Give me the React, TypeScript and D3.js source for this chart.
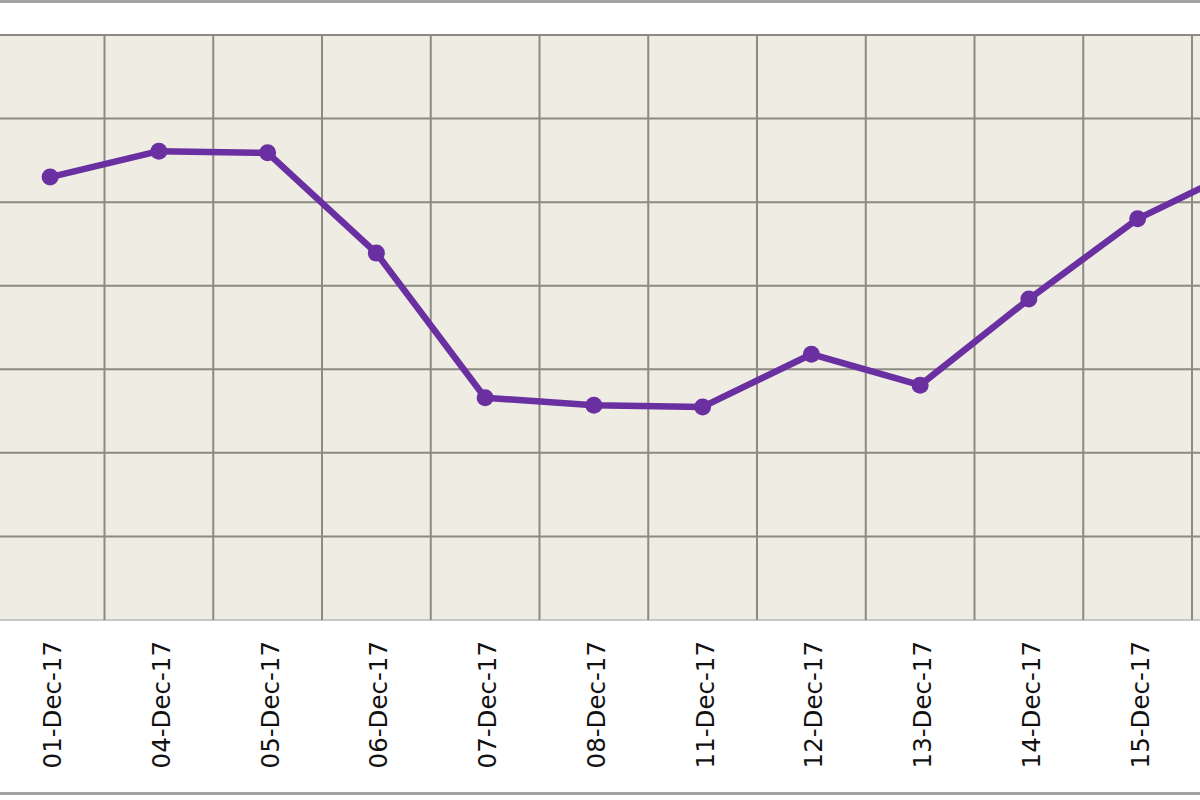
import React from "react";
import * as d3 from "d3";

const dates = [
  "01-Dec-17", "04-Dec-17", "05-Dec-17", "06-Dec-17", "07-Dec-17", "08-Dec-17",
  "11-Dec-17", "12-Dec-17", "13-Dec-17", "14-Dec-17", "15-Dec-17", "18-Dec-17",
];
const values = [53.0, 56.1, 55.9, 43.9, 26.6, 25.7, 25.5, 31.8, 28.1, 38.4, 48.0, 54.3];
const yTicks = [0, 10, 20, 30, 40, 50, 60, 70];

const W = 1200;
const H = 800;
const plotLeft = -4.25;
const bandW = 108.75;
const plotTop = 35;
const plotBottom = 620;

export default function App() {
  const x = d3
    .scaleBand<string>()
    .domain(dates)
    .range([plotLeft, plotLeft + bandW * dates.length])
    .paddingInner(0)
    .paddingOuter(0);
  const y = d3.scaleLinear().domain([0, 70]).range([plotBottom, plotTop]);
  const cx = (d: string) => (x(d) ?? 0) + x.bandwidth() / 2;

  const line = d3
    .line<number>()
    .x((_, i) => cx(dates[i]))
    .y((v) => y(v));

  const plotRight = plotLeft + bandW * dates.length;
  // labels beyond the visible canvas edge are cropped away in the reference
  const visibleLabels = dates.filter((d) => cx(d) + 11 < W);

  return (
    <svg
      width={W}
      height={H}
      style={{ position: "absolute", left: 0, top: 0, background: "#ffffff" }}
    >
      <rect x={0} y={0} width={W} height={H} fill="#ffffff" />
      {/* outer frame lines */}
      <line x1={0} x2={W} y1={1.5} y2={1.5} stroke="#a3a3a3" strokeWidth={3} />
      <line x1={0} x2={W} y1={793.5} y2={793.5} stroke="#a3a3a3" strokeWidth={3} />

      {/* plot background */}
      <rect
        x={plotLeft}
        y={plotTop}
        width={plotRight - plotLeft}
        height={plotBottom - plotTop}
        fill="#eeece3"
      />

      {/* horizontal grid */}
      {yTicks.map((t) => (
        <line
          key={"h" + t}
          x1={plotLeft}
          x2={plotRight}
          y1={y(t)}
          y2={y(t)}
          stroke={t === 0 ? "#c8c8c4" : "#8c8a82"}
          strokeWidth={2}
        />
      ))}
      {/* vertical grid */}
      {dates.map((d) => (
        <line
          key={"v" + d}
          x1={x(d)}
          x2={x(d)}
          y1={plotTop}
          y2={plotBottom}
          stroke="#8c8a82"
          strokeWidth={2}
        />
      ))}

      {/* series line */}
      <path
        d={line(values) ?? ""}
        fill="none"
        stroke="#6a2fa0"
        strokeWidth={6.5}
        strokeLinejoin="round"
      />
      {values.map((v, i) => (
        <circle key={"p" + i} cx={cx(dates[i])} cy={y(v)} r={8.5} fill="#6a2fa0" />
      ))}

      {/* x labels */}
      {visibleLabels.map((d) => (
        <text
          key={"t" + d}
          transform={`translate(${cx(d) + 11},641) rotate(-90)`}
          textAnchor="end"
          fontFamily="DejaVu Sans, Verdana, sans-serif"
          fontSize={24.5}
          fill="#111111"
        >
          {d}
        </text>
      ))}
    </svg>
  );
}
